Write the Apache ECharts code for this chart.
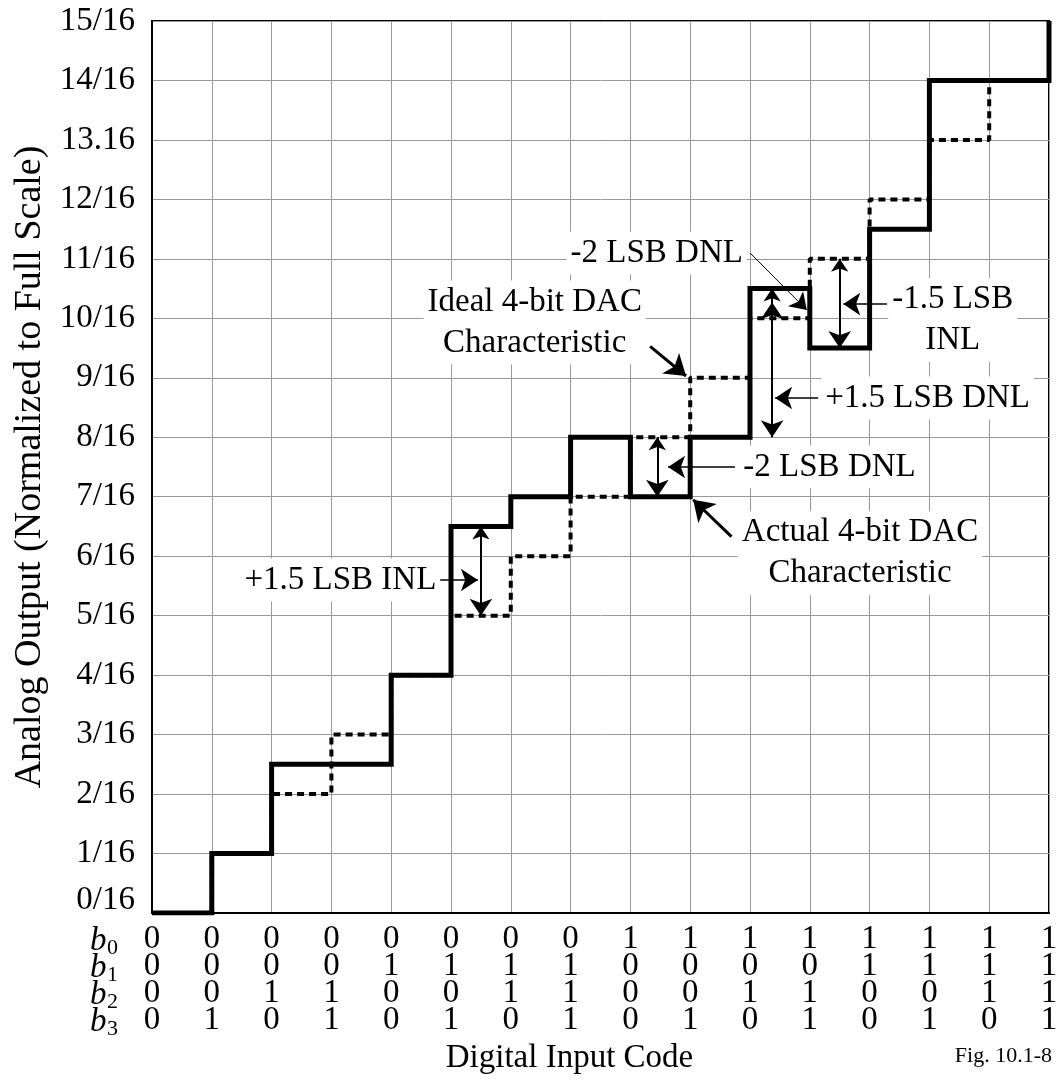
<!DOCTYPE html>
<html>
<head>
<meta charset="utf-8">
<title>4-bit DAC characteristic, INL and DNL</title>
<script src="https://cdn.jsdelivr.net/npm/echarts@6.0.0/dist/echarts.min.js"></script>
<style>
  html, body { margin: 0; padding: 0; background: #fff; }
  #chart { width: 1057px; height: 1081px; }
</style>
</head>
<body>
<div id="chart"></div>
<script>
// digital input codes and analog output (in LSB, i.e. n/16 of full scale)
const codes = [0, 1, 2, 3, 4, 5, 6, 7, 8, 9, 10, 11, 12, 13, 14, 15]
const idealOutput = [0, 1, 2, 3, 4, 5, 6, 7, 8, 9, 10, 11, 12, 13, 14, 15]
const actualOutput = [0, 1, 2.5, 2.5, 4, 6.5, 7, 8, 7, 8, 10.5, 9.5, 11.5, 14, 14, 15]

// tick labels
const yTickLabels = ['0/16', '1/16', '2/16', '3/16', '4/16', '5/16', '6/16', '7/16',
  '8/16', '9/16', '10/16', '11/16', '12/16', '13.16', '14/16', '15/16']
const bitB0 = [0, 0, 0, 0, 0, 0, 0, 0, 1, 1, 1, 1, 1, 1, 1, 1]
const bitB1 = [0, 0, 0, 0, 1, 1, 1, 1, 0, 0, 0, 0, 1, 1, 1, 1]
const bitB2 = [0, 0, 1, 1, 0, 0, 1, 1, 0, 0, 1, 1, 0, 0, 1, 1]
const bitB3 = [0, 1, 0, 1, 0, 1, 0, 1, 0, 1, 0, 1, 0, 1, 0, 1]
const bitNames = ['0', '1', '2', '3']

// annotations (data coordinates)
const noteTexts = ['+1.5 LSB INL', '-2 LSB DNL', 'Actual 4-bit DAC\nCharacteristic',
  'Ideal 4-bit DAC\nCharacteristic', '-2 LSB DNL', '-1.5 LSB\nINL', '+1.5 LSB DNL']
const noteAnchors = [[3.15, 5.6], [11.33, 7.5], [11.84, 6.05], [6.4, 9.93],
  [8.44, 11.1], [13.39, 9.97], [12.97, 8.66]]
const doubleArrows = [
  [[5.5, 6.5], [5.5, 5]],
  [[8.45, 8], [8.45, 7]],
  [[10.37, 10.5], [10.37, 8]],
  [[11.5, 11], [11.5, 9.5]]
]
const pointerArrows = [
  [[4.82, 5.6], [5.45, 5.6]],
  [[9.75, 7.5], [8.63, 7.5]],
  [[11.14, 8.66], [10.42, 8.66]],
  [[12.29, 10.24], [11.56, 10.24]],
  [[10.37, 9.9], [10.37, 10.27]]
]
const boldPointers = [
  [[9.69, 6.33], [9.05, 6.95]],
  [[8.33, 9.53], [8.93, 9.03]]
]
const thinPointers = [
  [[10.0, 11.1], [10.95, 10.14]]
]

const FONT = '"Liberation Serif", "Times New Roman", serif'

const chart = echarts.init(document.getElementById('chart'))

const toLines = (list) => list.map((c) => ({ coords: c }))

const option = {
  backgroundColor: '#fff',
  animation: false,
  grid: {
    left: 152,
    right: 8,
    top: 21,
    bottom: 168,
    show: true,
    borderColor: '#000',
    borderWidth: 2,
    outerBoundsMode: 'none'
  },
  xAxis: {
    type: 'value',
    min: 0,
    max: 15,
    interval: 1,
    axisLine: { show: true, lineStyle: { color: '#000', width: 2 } },
    axisTick: { show: false },
    splitLine: { show: true, lineStyle: { color: '#999', width: 1 } },
    axisLabel: {
      margin: 13,
      color: '#000',
      fontFamily: FONT,
      fontSize: 33,
      lineHeight: 27,
      showMinLabel: true,
      showMaxLabel: true,
      formatter: (v) => [bitB0[v], bitB1[v], bitB2[v], bitB3[v]].join('\n')
    },
    name: 'Digital Input Code',
    nameLocation: 'middle',
    nameGap: 123,
    nameTextStyle: { color: '#000', fontFamily: FONT, fontSize: 33, padding: [0, 62, 0, 0] }
  },
  yAxis: {
    type: 'value',
    min: 0,
    max: 15,
    interval: 1,
    axisLine: { show: true, lineStyle: { color: '#000', width: 2 } },
    axisTick: { show: false },
    splitLine: { show: true, lineStyle: { color: '#999', width: 1 } },
    axisLabel: {
      margin: 17,
      color: '#000',
      fontFamily: FONT,
      fontSize: 33,
      showMinLabel: true,
      showMaxLabel: true,
      formatter: (v) => (v === 0 ? '{lift|' + yTickLabels[0] + '}' : yTickLabels[v]),
      rich: {
        lift: { fontFamily: FONT, fontSize: 33, color: '#000', padding: [0, 0, 26, 0] }
      }
    },
    name: 'Analog Output (Normalized to Full Scale)',
    nameLocation: 'middle',
    nameRotate: 90,
    nameGap: 96,
    nameTextStyle: { color: '#000', fontFamily: FONT, fontSize: 38 }
  },
  series: [
    {
      name: 'Ideal',
      type: 'line',
      step: 'end',
      symbol: 'none',
      data: codes.map((c, i) => [c, idealOutput[i]]),
      lineStyle: { color: '#000', width: 4, type: [7, 5] },
      z: 3
    },
    {
      name: 'Actual',
      type: 'line',
      step: 'end',
      symbol: 'none',
      data: codes.map((c, i) => [c, actualOutput[i]]),
      lineStyle: { color: '#000', width: 5, join: 'miter' },
      z: 4
    },
    {
      type: 'scatter',
      symbolSize: 0,
      silent: true,
      z: 5,
      itemStyle: { opacity: 1, color: '#000' },
      data: noteAnchors.map((c, i) => ({ value: c, label: { formatter: noteTexts[i] } })),
      label: {
        show: true,
        position: 'inside',
        align: 'center',
        verticalAlign: 'middle',
        color: '#000',
        opacity: 1,
        fontFamily: FONT,
        fontSize: 33,
        lineHeight: 41,
        backgroundColor: '#fff',
        padding: [1, 4]
      }
    },
    {
      type: 'lines',
      coordinateSystem: 'cartesian2d',
      silent: true,
      z: 6,
      symbol: ['arrow', 'arrow'],
      symbolSize: [13, 17],
      lineStyle: { color: '#000', width: 2, opacity: 1 },
      data: toLines(doubleArrows)
    },
    {
      type: 'lines',
      coordinateSystem: 'cartesian2d',
      silent: true,
      z: 6,
      symbol: ['none', 'arrow'],
      symbolSize: [13, 17],
      lineStyle: { color: '#000', width: 1.5, opacity: 1 },
      data: toLines(pointerArrows)
    },
    {
      type: 'lines',
      coordinateSystem: 'cartesian2d',
      silent: true,
      z: 6,
      symbol: ['none', 'arrow'],
      symbolSize: [15, 20],
      lineStyle: { color: '#000', width: 3, opacity: 1 },
      data: toLines(boldPointers)
    },
    {
      type: 'lines',
      coordinateSystem: 'cartesian2d',
      silent: true,
      z: 6,
      symbol: ['none', 'arrow'],
      symbolSize: [12, 16],
      lineStyle: { color: '#000', width: 1, opacity: 1 },
      data: toLines(thinPointers)
    }
  ],
  graphic: [
    ...bitNames.map((n, i) => ({
      type: 'text',
      x: 90,
      y: 941 + i * 27,
      style: { text: 'b', fill: '#000', font: 'italic 33px ' + FONT, align: 'left', verticalAlign: 'middle' }
    })),
    ...bitNames.map((n, i) => ({
      type: 'text',
      x: 107,
      y: 948 + i * 27,
      style: { text: n, fill: '#000', font: '22px ' + FONT, align: 'left', verticalAlign: 'middle' }
    })),
    {
      type: 'text',
      x: 1052,
      y: 1056,
      style: { text: 'Fig. 10.1-8', fill: '#000', font: '22px ' + FONT, align: 'right', verticalAlign: 'middle' }
    }
  ]
}

chart.setOption(option)
</script>
</body>
</html>
